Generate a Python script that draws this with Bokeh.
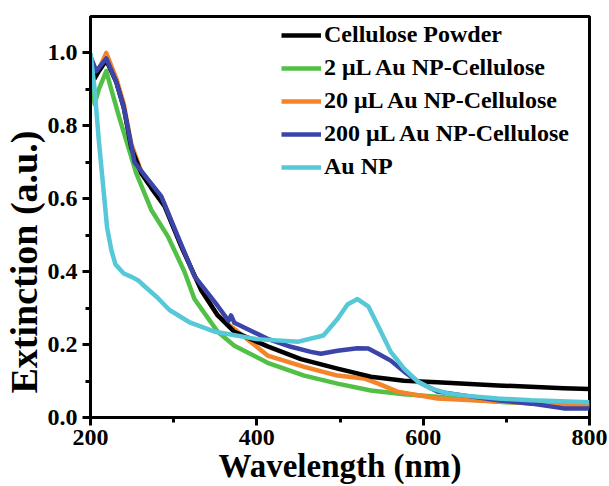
from bokeh.plotting import figure
from bokeh.models import Range1d, FixedTicker, Legend, LegendItem, Title
from bokeh.embed import file_html
from bokeh.resources import INLINE

# ---- data ----
black_x = [200, 205, 210, 219, 231, 240, 249, 261, 273, 289, 309, 333, 353, 373, 413, 453, 497, 537, 577, 617, 690, 769, 800]
black_y = [0.97, 0.93, 0.95, 0.98, 0.92, 0.85, 0.74, 0.67, 0.63, 0.58, 0.47, 0.35, 0.28, 0.235, 0.195, 0.16, 0.134, 0.112, 0.101, 0.097, 0.088, 0.08, 0.078]

green_x = [200, 205, 210, 219, 225, 235, 243, 255, 273, 293, 313, 325, 353, 373, 413, 457, 497, 537, 577, 617, 650, 700, 760, 800]
green_y = [0.93, 0.86, 0.90, 0.95, 0.90, 0.82, 0.76, 0.67, 0.57, 0.497, 0.40, 0.325, 0.235, 0.197, 0.15, 0.115, 0.093, 0.074, 0.064, 0.057, 0.05, 0.042, 0.036, 0.033]

orange_x = [200, 207, 219, 231, 240, 249, 261, 273, 289, 309, 333, 353, 369, 413, 457, 497, 529, 546, 569, 617, 690, 760, 800]
orange_y = [0.97, 0.94, 1.0, 0.93, 0.86, 0.75, 0.675, 0.635, 0.585, 0.47, 0.35, 0.28, 0.25, 0.17, 0.139, 0.115, 0.107, 0.093, 0.071, 0.052, 0.044, 0.036, 0.033]

blue_x = [200, 207, 219, 231, 240, 247, 253, 269, 285, 305, 325, 353, 366, 369, 373, 413, 441, 465, 477, 497, 521, 534, 546, 561, 577, 594, 617, 690, 730, 769, 800]
blue_y = [0.99, 0.95, 0.985, 0.92, 0.85, 0.77, 0.70, 0.653, 0.607, 0.497, 0.388, 0.306, 0.265, 0.28, 0.26, 0.216, 0.194, 0.18, 0.175, 0.183, 0.19, 0.189, 0.175, 0.156, 0.126, 0.098, 0.071, 0.047, 0.038, 0.025, 0.025]

cyan_x = [200, 205, 210, 215, 220, 225, 230, 240, 250, 258, 265, 280, 295, 320, 350, 400, 450, 480, 497, 509, 521, 534, 546, 561, 577, 594, 610, 630, 650, 690, 730, 800]
cyan_y = [1.0, 0.9, 0.76, 0.64, 0.52, 0.46, 0.42, 0.395, 0.385, 0.375, 0.36, 0.33, 0.295, 0.26, 0.235, 0.215, 0.208, 0.225, 0.27, 0.31, 0.325, 0.305, 0.25, 0.18, 0.134, 0.098, 0.079, 0.066, 0.06, 0.052, 0.047, 0.042]

labels = ["Cellulose Powder", "2 \u03bcL Au NP-Cellulose", "20 \u03bcL Au NP-Cellulose",
          "200 \u03bcL Au NP-Cellulose", "Au NP"]
colors = ["#000000", "#52C046", "#F5832A", "#3B44A8", "#56C8D8"]

x_ticks = [200, 400, 600, 800]
x_minor = [300, 500, 700]
y_ticks = [0.0, 0.2, 0.4, 0.6, 0.8, 1.0]
y_minor = [0.1, 0.3, 0.5, 0.7, 0.9]
x_title = "Wavelength (nm)"
y_title = "Extinction (a.u.)"

FONT = "Liberation Serif"

p = figure(width=609, height=486, output_backend="svg", toolbar_location=None,
           x_range=Range1d(200, 800), y_range=Range1d(0, 1.1),
           min_border_left=89, min_border_right=20, min_border_top=16, min_border_bottom=67)
p.grid.visible = False
p.outline_line_color = "black"
p.outline_line_width = 3
p.background_fill_color = "white"
p.border_fill_color = "white"

series = [(black_x, black_y), (green_x, green_y), (orange_x, orange_y), (blue_x, blue_y), (cyan_x, cyan_y)]
renderers = {}
for idx in [1, 2, 0, 3, 4]:
    xs, ys = series[idx]
    renderers[idx] = p.line(xs, ys, line_color=colors[idx], line_width=4.5, line_join="round")

items = [LegendItem(label=labels[i], renderers=[renderers[i]]) for i in range(5)]
legend = Legend(items=items, location=(191, 237))
legend.border_line_color = None
legend.background_fill_alpha = 0
legend.label_text_font = FONT
legend.label_text_font_style = "bold"
legend.label_text_font_size = "24px"
legend.label_text_color = "black"
legend.glyph_width = 40
legend.glyph_height = 26
legend.label_height = 26
legend.spacing = 6
legend.padding = 0
legend.margin = 0
legend.label_standoff = 3
p.add_layout(legend)

for ax in (p.xaxis[0], p.yaxis[0]):
    ax.axis_line_width = 3
    ax.major_tick_line_width = 3
    ax.minor_tick_line_width = 3
    ax.major_tick_out = 8
    ax.major_tick_in = 0
    ax.minor_tick_out = 5
    ax.minor_tick_in = 0
    ax.major_label_text_font = FONT
    ax.major_label_text_font_style = "bold"
    ax.major_label_text_font_size = "24px"
    ax.major_label_text_color = "black"
    ax.axis_label_text_font = FONT
    ax.axis_label_text_font_style = "bold"
    ax.axis_label_text_color = "black"

p.xaxis.axis_label_text_font_size = "33px"
p.xaxis.ticker = FixedTicker(ticks=x_ticks, minor_ticks=x_minor)
p.yaxis.ticker = FixedTicker(ticks=y_ticks, minor_ticks=y_minor)
p.yaxis.major_label_overrides = {v: f"{v:.1f}" for v in y_ticks}
p.xaxis.axis_label = x_title
p.xaxis.major_label_standoff = 4
p.yaxis.major_label_standoff = 5
p.xaxis.axis_label_standoff = 0

# y-axis title as a side title, starting a little above the bottom of the frame
ytitle = Title(text=y_title, align="left", offset=24, standoff=0,
               text_font=FONT, text_font_style="bold", text_font_size="38px",
               text_color="black")
p.add_layout(ytitle, "left")

open("out.html", "w").write(file_html(p, INLINE))
